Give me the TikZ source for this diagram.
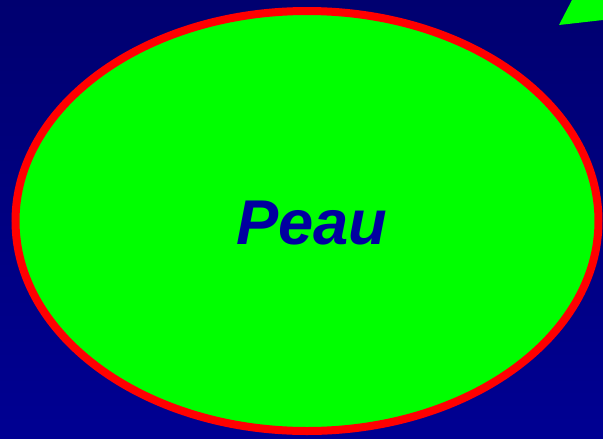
\documentclass[tikz,border=0pt]{standalone}
\usepackage{fontspec}
\setsansfont{Liberation Sans}
\definecolor{bgtop}{RGB}{0, 0, 112}
\definecolor{bgbottom}{RGB}{0, 0, 146}
\definecolor{skingreen}{RGB}{0, 255, 0}
\definecolor{rimred}{RGB}{255, 0, 0}
\definecolor{textblue}{RGB}{0, 0, 160}

\begin{document}
\begin{tikzpicture}[x=0.03cm, y=-0.03cm,
    skin/.style={draw=rimred, fill=skingreen, line width=0.24cm},
    skinlabel/.style={inner sep=0pt, text=textblue,
      font=\sffamily\bfseries\itshape\fontsize{54}{60}\selectfont}]
    \shade[top color=bgtop, bottom color=bgbottom] (0,0) rectangle (603,438);
    \useasboundingbox (0,0) rectangle (603,438);
    \fill[skingreen] (559,25) -- (572,0) -- (603,0) -- (603,20) -- cycle;
    \draw[skin] (307,221) ellipse [x radius=291.5, y radius=210];
    \node[skinlabel] (peau) at (312,223) {Peau};
  \end{tikzpicture}
\end{document}
